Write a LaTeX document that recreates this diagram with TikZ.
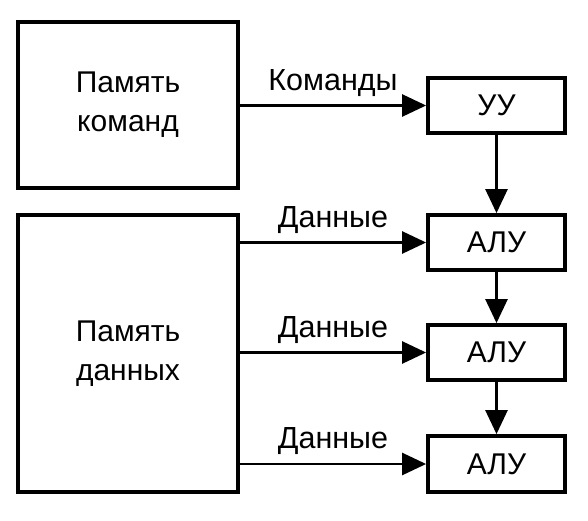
\documentclass[tikz,border=0pt]{standalone}
\usepackage{fontspec}
\setmainfont{Liberation Sans}
\usetikzlibrary{arrows.meta}
\begin{document}
\begin{tikzpicture}[x=1pt,y=-1pt,
  blockbox/.style={draw=black,line width=3.8pt,fill=white,inner sep=0pt,align=center,font=\fontsize{30}{39}\selectfont},
  conn/.style={line width=2.6pt,-{Triangle[length=24pt,width=22pt]}},
  lbl/.style={font=\fontsize{30.5}{34}\selectfont,inner sep=0pt}]
\useasboundingbox (0,0) rectangle (588,521);
\node[blockbox,minimum width=220pt,minimum height=166pt] (pk) at (128,105) {Память\\команд};
\node[blockbox,minimum width=220pt,minimum height=277pt] (pd) at (128,353.5) {Память\\данных};
\node[blockbox,minimum width=137pt,minimum height=55pt] (uu) at (496.5,105.5) {УУ};
\node[blockbox,minimum width=137pt,minimum height=55pt] (a1) at (496.5,242.5) {АЛУ};
\node[blockbox,minimum width=137pt,minimum height=55pt] (a2) at (496.5,352.5) {АЛУ};
\node[blockbox,minimum width=137pt,minimum height=56pt] (a3) at (496.5,464) {АЛУ};
\draw[conn] (pk.east |- uu) -- node[lbl,midway,above=8pt] {Команды} (uu.west);
\draw[conn] (pd.east |- a1) -- node[lbl,midway,above=8pt] {Данные} (a1.west);
\draw[conn] (pd.east |- a2) -- node[lbl,midway,above=8pt] {Данные} (a2.west);
\draw[conn] (pd.east |- a3) -- node[lbl,midway,above=8pt] {Данные} (a3.west);
\draw[conn] (uu) -- (a1);
\draw[conn] (a1) -- (a2);
\draw[conn] (a2) -- (a3);
\end{tikzpicture}
\end{document}
